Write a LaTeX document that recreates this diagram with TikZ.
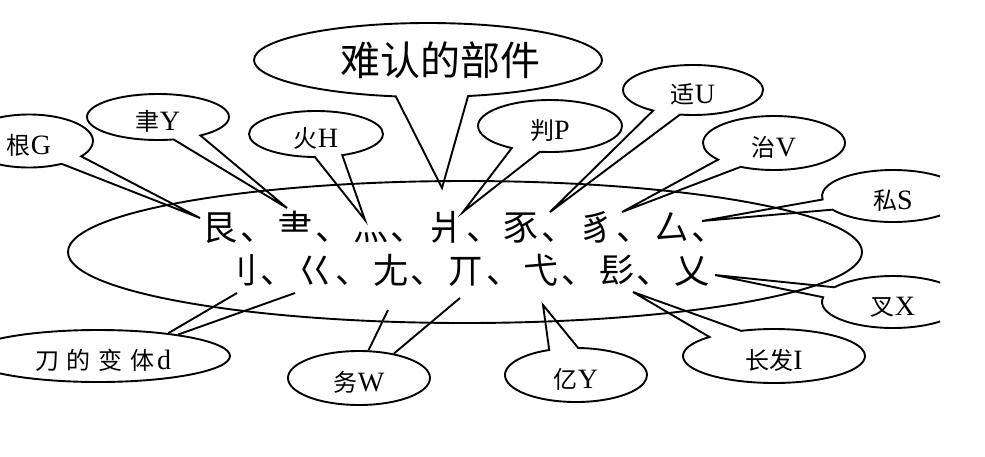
\documentclass[tikz,border=0pt]{standalone}
\usepackage{fontspec}
\setmainfont{Liberation Serif}
\newfontfamily\cjk{Noto Sans CJK SC}
\usetikzlibrary{shapes.callouts,shapes.geometric}
\newcommand\zh[1]{{\cjk\fontsize{24}{24}\selectfont #1}}
\tikzset{
  outline/.style={draw=black, line width=1.9pt},
  bubble/.style={ellipse callout, outline, inner sep=0pt, callout pointer arc=24, font=\fontsize{28}{28}\selectfont},
  lowtext/.style={text height=29pt, text depth=3pt},
  plainoval/.style={ellipse, outline, inner sep=0pt, font=\fontsize{28}{28}\selectfont, lowtext},
  glyph/.style={anchor=base, inner sep=0pt, font=\cjk\fontsize{35}{35}\selectfont},
  tie/.style={line width=1.9pt},
}
\begin{document}
\begin{tikzpicture}[x=1pt,y=-1pt]
\useasboundingbox (0,0) rectangle (985,456);
\clip (0,0) rectangle (985,456);
\fill[white] (0,0) rectangle (985,456);

% main oval
\node[ellipse, outline, minimum width=794pt, minimum height=142pt] (main) at (465,252) {};

% glyph rows
\foreach \g [count=\i from 0] in {艮,、,⺻,、,灬,、,爿,、,豕,、,豸,、,厶,、}
  \node[glyph] (a\i) at ({220+37.65*\i},240) {\g};
\foreach \g [count=\i from 0] in {刂,、,巜,、,尢,、,丌,、,弋,、,髟,、,乂}
  \node[glyph] (b\i) at ({240+37.65*\i},283) {\g};

% pointer tips
\coordinate (tT) at (442,188);
\coordinate (tG) at (200,218);
\coordinate (tY) at (287,208);
\coordinate (tH) at (365,220);
\coordinate (tP) at (463,212);
\coordinate (tU) at (550,212);
\coordinate (tV) at (622,212);
\coordinate (tS) at (702,221);
\coordinate (tX) at (715,275);
\coordinate (tI) at (633,292);
\coordinate (tY2) at (543,305);

% title
\node[bubble, minimum width=348pt, minimum height=74pt, callout absolute pointer={(tT)},
      font=\cjk\fontsize{40}{40}\selectfont] (title) at (428,60) {\hspace*{24pt}难认的部件};

% callouts
\node[bubble, lowtext, minimum width=128pt, minimum height=53pt, callout absolute pointer={(tG)}] (gen) at (29,141) {\zh{根}G};
\node[bubble, lowtext, minimum width=142pt, minimum height=46pt, callout absolute pointer={(tY)}] (yu) at (158,117) {\zh{聿}Y};
\node[bubble, lowtext, minimum width=134pt, minimum height=46pt, callout absolute pointer={(tH)}] (huo) at (316,134) {\zh{火}H};
\node[bubble, lowtext, minimum width=144pt, minimum height=52pt, callout absolute pointer={(tP)}] (pan) at (550,126) {\zh{判}P};
\node[bubble, lowtext, minimum width=140pt, minimum height=50pt, callout absolute pointer={(tU)}] (shi) at (693,90) {\zh{适}U};
\node[bubble, lowtext, minimum width=142pt, minimum height=54pt, callout absolute pointer={(tV)}] (zhi) at (774,143) {\zh{治}V};
\begin{scope}
  \clip (0,0) rectangle (940,456);
  \node[bubble, lowtext, minimum width=142pt, minimum height=52pt, callout absolute pointer={(tS)}] (si) at (893,196) {\zh{私}S};
  \node[bubble, lowtext, minimum width=142pt, minimum height=52pt, callout absolute pointer={(tX)}] (cha) at (893,302) {\zh{叉}X};
\end{scope}
\node[bubble, lowtext, minimum width=182pt, minimum height=54pt, callout absolute pointer={(tI)}] (fa) at (774,356) {\zh{长发}I};
\node[bubble, lowtext, minimum width=142pt, minimum height=54pt, callout absolute pointer={(tY2)}] (yi) at (576,375) {\zh{亿}Y};

% plain ovals with two ties
\node[plainoval, minimum width=142pt, minimum height=54pt] (wu) at (359,378) {\zh{务}W};
\node[plainoval, minimum width=264pt, minimum height=52pt] (dao) at (98,356) {\hspace*{10pt}\zh{刀\hspace{8pt}的\hspace{8pt}变\hspace{8pt}体}\hspace{2pt}d};

\coordinate (wA) at (388,310);
\coordinate (wB) at (460,298);
\coordinate (dA) at (237,293);
\coordinate (dB) at (295,293);
\draw[tie] (wu.71) -- (wA);
\draw[tie] (wu.35) -- (wB);
\draw[tie] (dao.18) -- (dA);
\draw[tie] (dao.15) -- (dB);
\end{tikzpicture}
\end{document}
